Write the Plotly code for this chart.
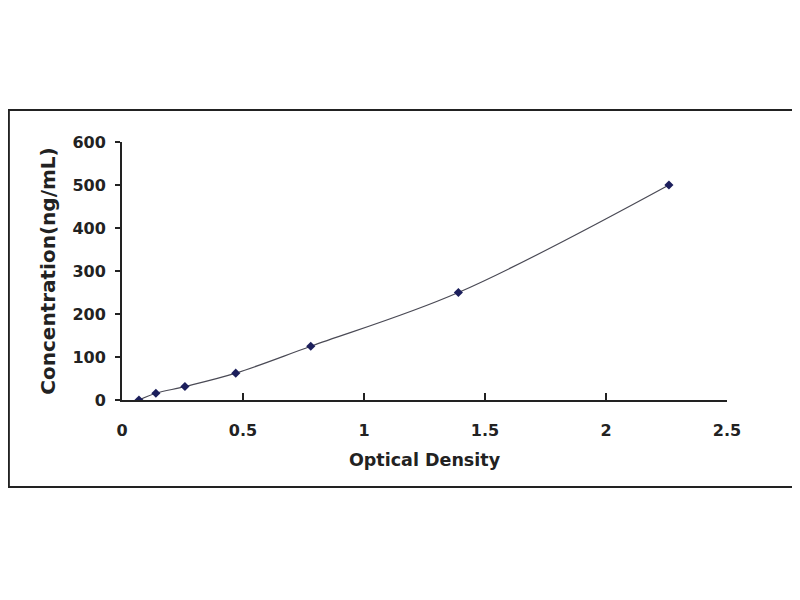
import plotly.graph_objects as go

# standard curve readings
optical_density = [0.07, 0.14, 0.26, 0.47, 0.78, 1.39, 2.26]
concentration = [0, 15.6, 31.25, 62.5, 125, 250, 500]

x_ticks = [0, 0.5, 1, 1.5, 2, 2.5]
x_tick_text = ["0", "0.5", "1", "1.5", "2", "2.5"]
y_ticks = [0, 100, 200, 300, 400, 500, 600]

font_name = "DejaVu Sans"
ink = "#222222"

fig = go.Figure()

fig.add_trace(go.Scatter(
    x=optical_density, y=concentration,
    mode="lines+markers",
    line=dict(color="#4a4a55", width=1.2, shape="spline"),
    marker=dict(symbol="diamond", size=7, color="#1c1f5c"),
    showlegend=False,
))

# outer frame around the whole chart
fig.add_shape(type="rect", xref="paper", yref="paper",
              x0=-0.187, x1=1.117, y0=-0.337, y1=1.124,
              line=dict(color=ink, width=2), fillcolor="rgba(0,0,0,0)")

fig.update_xaxes(
    range=[0, 2.5], tickvals=x_ticks, ticktext=x_tick_text,
    showgrid=False, zeroline=False,
    showline=True, linecolor=ink, linewidth=2,
    ticks="inside", ticklen=7, tickwidth=2, tickcolor=ink,
    ticklabelstandoff=15,
    tickfont=dict(family=font_name, size=16, color=ink, weight="bold"),
    title=dict(text="<b>Optical Density</b>", standoff=15,
               font=dict(family=font_name, size=17.5, color=ink)),
)
fig.update_yaxes(
    range=[0, 600], tickvals=y_ticks,
    showgrid=False, zeroline=False,
    showline=True, linecolor=ink, linewidth=2,
    ticks="outside", ticklen=5, tickwidth=2, tickcolor=ink,
    ticklabelstandoff=6,
    tickfont=dict(family=font_name, size=16, color=ink, weight="bold"),
    title=dict(text="<b>Concentration(ng/mL)</b>", standoff=11,
               font=dict(family=font_name, size=20, color=ink)),
)

# page body adds an 8px offset, so the figure is 8px smaller
fig.update_layout(
    width=792, height=592,
    margin=dict(l=114, r=73, t=134, b=200),
    plot_bgcolor="white", paper_bgcolor="white",
)

fig.write_html("out.html")
